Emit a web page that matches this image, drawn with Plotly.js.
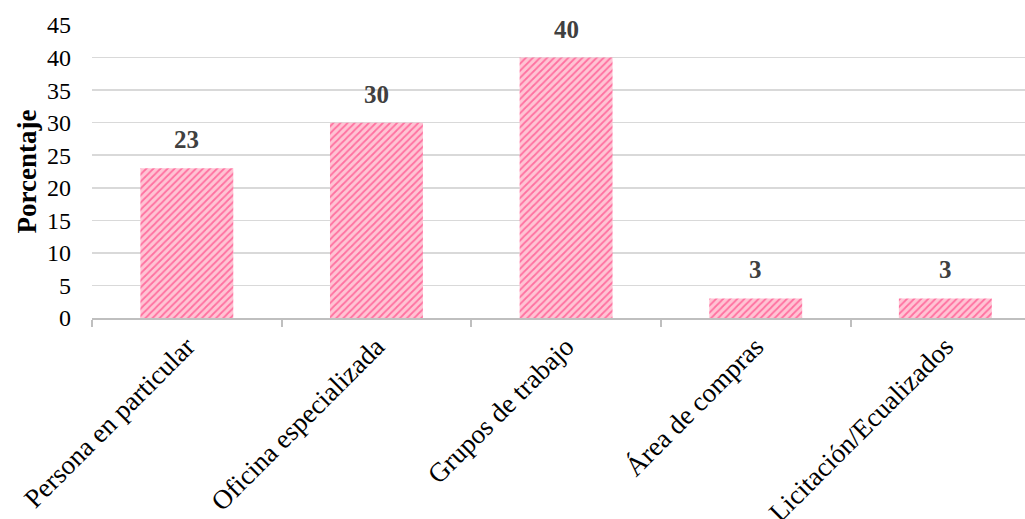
<!DOCTYPE html>
<html>
<head>
<meta charset="utf-8">
<script src="https://cdn.plot.ly/plotly-3.0.1.min.js"></script>
<style>html,body{margin:0;padding:0;background:#fff;}#chart{width:1025px;height:519px;}</style>
</head>
<body>
<div id="chart"></div>
<script>
// Categories and percentages
const categorias = ["Persona en particular", "Oficina especializada", "Grupos de trabajo", "Área de compras", "Licitación/Ecualizados"];
const porcentajes = [23, 30, 40, 3, 3];
const yTicks = [0, 5, 10, 15, 20, 25, 30, 35, 40, 45];

const serif = "'Liberation Serif', 'Times New Roman', serif";

const trace = {
  type: "bar",
  x: categorias,
  y: porcentajes,
  width: 0.49,
  marker: {
    color: "#ffc4d4",
    line: {width: 0},
    pattern: {shape: "/", fgcolor: "#ff70a0", bgcolor: "#ffc4d4", size: 5, solidity: 0.35}
  },
  hoverinfo: "skip"
};

// Value labels above each bar
const etiquetas = categorias.map((c, i) => ({
  x: c, y: porcentajes[i], text: "<b>" + porcentajes[i] + "</b>",
  showarrow: false, yanchor: "bottom", yshift: 13,
  font: {family: serif, size: 25, color: "#404040"}
}));

const layout = {
  width: 1025, height: 519,
  margin: {l: 92, r: 0, t: 25, b: 201},
  paper_bgcolor: "#fff", plot_bgcolor: "#fff",
  showlegend: false,
  xaxis: {
    type: "category",
    range: [-0.5, 4.42],
    tickangle: -45,
    tickfont: {family: serif, size: 27, color: "#000"},
    ticks: "outside", tickson: "boundaries", ticklen: 7, tickcolor: "#bfbfbf", tickwidth: 2,
    showline: true, linecolor: "#bfbfbf", linewidth: 2,
    showgrid: false, zeroline: false
  },
  yaxis: {
    range: [0, 45],
    tickvals: yTicks,
    tickfont: {family: serif, size: 24, color: "#000"},
    showgrid: true, gridcolor: "#d9d9d9", gridwidth: 1.5,
    zeroline: false, showline: false, ticks: "",
    ticklabelstandoff: 20,
    title: {text: "<b>Porcentaje</b>", font: {family: serif, size: 27, color: "#000"}, standoff: 2}
  },
  annotations: etiquetas,
  bargap: 0.51
};

Plotly.newPlot("chart", [trace], layout, {displayModeBar: false, staticPlot: true});
</script>
</body>
</html>
